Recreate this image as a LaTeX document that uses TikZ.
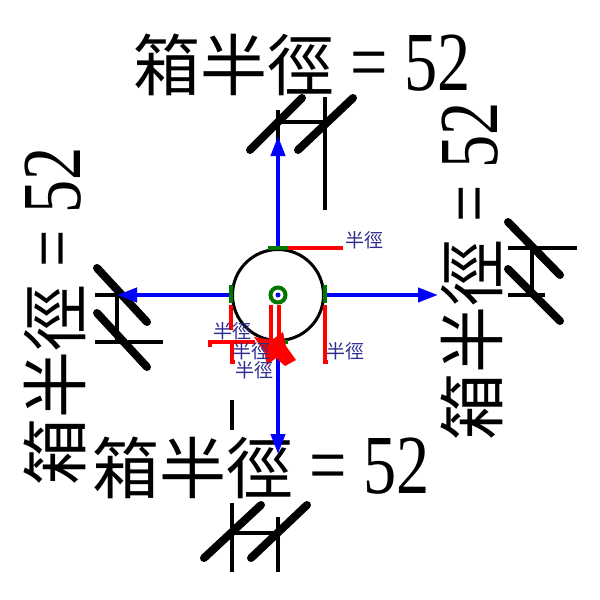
\documentclass[tikz,border=0pt]{standalone}
\usepackage{fontspec}
\usetikzlibrary{arrows.meta}
\newfontfamily\cjk{Noto Sans CJK TC}
\newfontfamily\lat[FakeStretch=0.79]{Liberation Serif}
\definecolor{lblblue}{RGB}{45,45,145}
\definecolor{grn}{RGB}{0,120,0}
\newcommand\myboxtext{{\fontsize{67}{70}\selectfont\cjk 箱半徑}{\fontsize{84}{90}\selectfont\lat\ = 52}}
\newcommand\myrad{{\fontsize{19}{21}\selectfont\cjk 半徑}}
\begin{document}
\begin{tikzpicture}[x=1pt,y=-1pt,
  ext/.style={black,line width=4pt},
  tick/.style={black,line width=8pt,line cap=round},
  arr/.style={blue,line width=4pt,-{Triangle[length=20pt,width=14pt]}},
  redl/.style={red,line width=4pt},
  grnl/.style={grn,line width=4pt},
  big/.style={inner sep=0pt,outer sep=0pt},
  rad/.style={inner sep=0pt,text=lblblue}]
\useasboundingbox (0,0) rectangle (600,600);
% texts
\node[big,anchor=base west] (tT) at (133,90) {\myboxtext};
\node[big,anchor=base west] (tB) at (92,493) {\myboxtext};
\node[big,anchor=base west,rotate=90] (tL) at (80,485) {\myboxtext};
\node[big,anchor=base west,rotate=90] (tR) at (497,440) {\myboxtext};
% top dimension marks
\draw[ext] (278,110) -- (278,248);
\draw[ext] (325,97) -- (325,210);
\draw[ext] (278,122) -- (325,122);
\draw[tick] (250,150) -- (302,98);
\draw[tick] (298,150) -- (353,98);
% right
\draw[ext] (508,248) -- (577,248);
\draw[ext] (508,295) -- (545,295);
\draw[ext] (532,248) -- (532,295);
\draw[tick] (508,222) -- (560,275);
\draw[tick] (508,269) -- (560,321);
% bottom
\draw[ext] (232,400) -- (232,430);
\draw[ext] (232,503) -- (232,572);
\draw[ext] (278,517) -- (278,572);
\draw[ext] (232,533) -- (278,533);
\draw[tick] (204,558) -- (261,505);
\draw[tick] (251,558) -- (307,505);
% left
\draw[ext] (95,295) -- (231,295);
\draw[ext] (95,342) -- (163,342);
\draw[ext] (117,295) -- (117,342);
\draw[tick] (97,268) -- (147,322);
\draw[tick] (97,313) -- (147,367);
% arrows
\coordinate (c0) at (278,295);
\coordinate (tipN) at (278,136);
\coordinate (tipW) at (117,295);
\coordinate (tipE) at (438,295);
\coordinate (tipS) at (278,454);
\draw[arr] (c0) -- (tipN);
\draw[arr] (c0) -- (tipW);
\draw[arr] (c0) -- (tipE);
\draw[arr] (c0) -- (tipS);
% circle
\node[circle,draw=black,line width=3pt,fill=white,minimum size=91pt,inner sep=0pt] (c) at (c0) {};
\draw[grnl] (268,248) -- (288,248);
\draw[grnl] (231,285) -- (231,303);
\draw[grnl] (325,285) -- (325,303);
\draw[grnl] (278,342) -- (288,342);
\node[circle,draw=grn,line width=4pt,minimum size=15pt,inner sep=0pt] (ring) at (c0) {};
\node[circle,fill=blue,minimum size=5pt,inner sep=0pt] (dot) at (c0) {};
% red marks
\draw[redl] (288,248) -- (343,248);
\draw[redl] (325,305) -- (325,362) -- (328,362);
\draw[redl] (231,305) -- (231,330);
\draw[redl] (210,347) -- (210,342) -- (255,342);
\draw[redl] (232,342) -- (232,362) -- (235,362);
\draw[redl] (271,305) -- (271,345);
\draw[redl] (279,305) -- (279,352);
\fill[red] (254,337) -- (272,340) -- (283,332) -- (286,346) -- (296,360) -- (285,366) -- (276,358) -- (267,365) -- (264,351) -- cycle;
% radius labels
\node[rad] (r1) at (364,240) {\myrad};
\node[rad] (r2) at (345,351) {\myrad};
\node[rad] (r3) at (232,331) {\myrad};
\node[rad] (r4) at (251,351) {\myrad};
\node[rad] (r5) at (254,370) {\myrad};
\end{tikzpicture}
\end{document}
